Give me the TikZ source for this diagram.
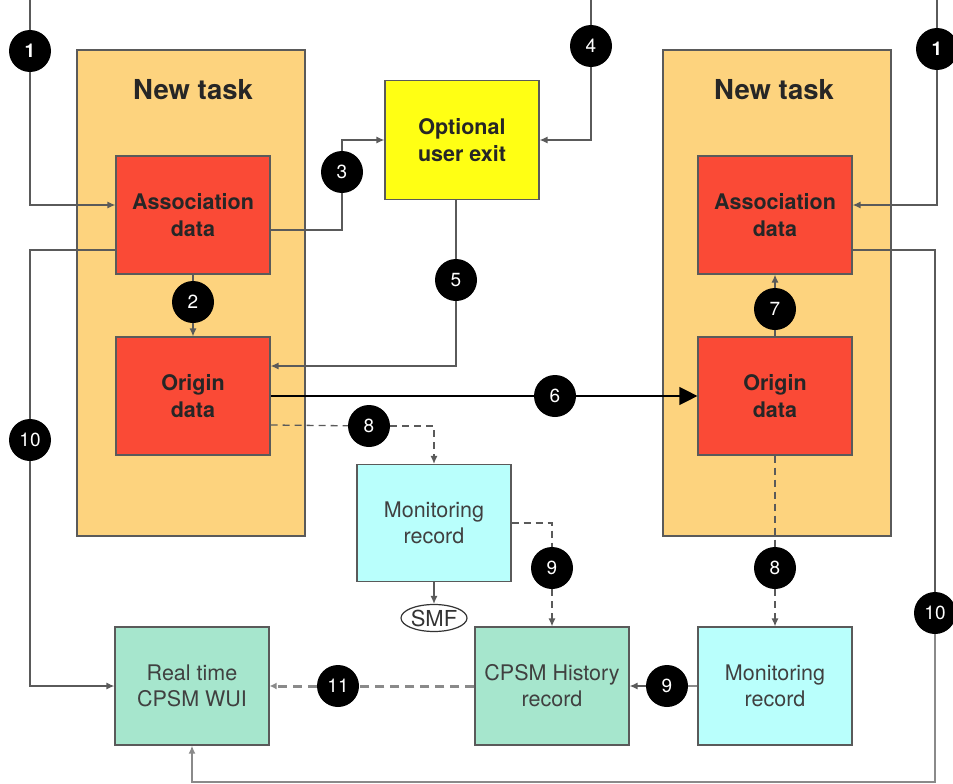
\documentclass[tikz,border=0pt]{standalone}
\usepackage{fontspec}
\setmainfont{TeX Gyre Heros}
\usetikzlibrary{arrows.meta,shapes.geometric}

\definecolor{taskorange}{HTML}{FDD37E}
\definecolor{datared}{HTML}{FA4A36}
\definecolor{exityellow}{HTML}{FFFF14}
\definecolor{moncyan}{HTML}{B9FFFC}
\definecolor{histgreen}{HTML}{A6E6CD}
\definecolor{edge}{HTML}{5A5A5A}
\definecolor{lightedge}{HTML}{8A8A8A}

\begin{document}
\begin{tikzpicture}[x=1pt,y=-1pt,
  task/.style={draw=edge,line width=1.2pt,fill=taskorange,minimum width=228pt,minimum height=486pt,inner sep=0pt},
  tasktitle/.style={font=\bfseries\fontsize{27.5}{30}\selectfont,text=black!85},
  box/.style={draw=edge,line width=1.2pt,inner sep=0pt,minimum width=154pt,minimum height=118pt,align=center},
  hot/.style={box,font=\bfseries\fontsize{21.5}{27}\selectfont,text=black!85},
  cool/.style={box,font=\fontsize{21.5}{26}\selectfont,text=black!75},
  badge/.style={circle,fill=black,minimum size=42pt,inner sep=0pt,text=white,font=\fontsize{19}{19}\selectfont},
  wire/.style={draw=edge,line width=1.3pt},
  arr/.style={wire,-{Latex[length=8pt,width=7pt]}},
  dashwire/.style={wire,dash pattern=on 7pt off 5pt},
  dasharr/.style={dashwire,-{Latex[length=8pt,width=7pt]}},
  faint/.style={draw=lightedge,line width=2pt},
]
  \clip (0,0) rectangle (953,784);

  % task frames
  \node[task] (taskL) at (191,293) {};
  \node[task] (taskR) at (777,293) {};
  \node[tasktitle] (titleL) at (193,90) {New task};
  \node[tasktitle] (titleR) at (774,90) {New task};

  % boxes
  \node[hot,fill=datared] (assocL) at (193,215) {Association\\data};
  \node[hot,fill=datared] (originL) at (193,396) {Origin\\data};
  \node[hot,fill=datared] (assocR) at (775,215) {Association\\data};
  \node[hot,fill=datared] (originR) at (775,396) {Origin\\data};
  \node[hot,fill=exityellow,minimum height=119pt] (exit) at (462,140) {Optional\\user exit};
  \node[cool,fill=moncyan,minimum height=117pt] (monM) at (434,523) {Monitoring\\record};
  \node[cool,fill=histgreen] (wui) at (192,686) {Real time\\CPSM WUI};
  \node[cool,fill=histgreen] (hist) at (552,686) {CPSM History\\record};
  \node[cool,fill=moncyan] (monB) at (775,686) {Monitoring\\record};
  \node[ellipse,draw=black!80,line width=1.2pt,minimum width=66pt,minimum height=27pt,inner sep=0pt,
        font=\fontsize{22}{22}\selectfont,text=black!80] (smf) at (434,618) {SMF};

  % badges
  \node[badge,font=\bfseries\fontsize{19}{19}\selectfont] (b1L) at (30,51) {1};
  \node[badge,font=\bfseries\fontsize{19}{19}\selectfont] (b1R) at (937,49) {1};
  \node[badge] (b2) at (193,302) {2};
  \node[badge] (b3) at (342,172) {3};
  \node[badge] (b4) at (591,46) {4};
  \node[badge] (b5) at (456,280) {5};
  \node[badge] (b6) at (555,396) {6};
  \node[badge] (b7) at (775,309) {7};
  \node[badge] (b8L) at (369,426) {8};
  \node[badge] (b8R) at (775,568) {8};
  \node[badge] (b9M) at (552,568) {9};
  \node[badge] (b9B) at (667,686) {9};
  \node[badge] (b10L) at (30,440) {10};
  \node[badge] (b10R) at (935,613) {10};
  \node[badge] (b11) at (338,686) {11};

  \coordinate (in1L) at (30,0);
  \coordinate (in1R) at (937,0);
  \coordinate (in4) at (591,0);
  \coordinate (turnR) at (935,782);

  % 1
  \draw[wire] (in1L) -- (b1L);
  \draw[arr] (b1L) |- ([yshift=10pt]assocL.west);
  \draw[wire] (in1R) -- (b1R);
  \draw[arr] (b1R) |- ([yshift=10pt]assocR.east);
  % 2
  \draw[wire] (assocL.south) -- (b2);
  \draw[arr] (b2) -- (originL.north);
  % 3
  \draw[wire] ([yshift=-15pt]assocL.east) -| (b3);
  \draw[arr] (b3) |- (exit.west);
  % 4
  \draw[wire] (in4) -- (b4);
  \draw[arr] (b4) |- (exit.east);
  % 5
  \draw[wire] (exit.south -| b5) -- (b5);
  \draw[arr] (b5) |- ([yshift=30pt]originL.east);
  % 6
  \draw[wire,draw=black] (originL.east) -- (b6);
  \draw[wire,draw=black,-{Triangle[length=18pt,width=18pt]}] (b6) -- (originR.west);
  % 7
  \draw[wire] (originR.north) -- (b7);
  \draw[arr] (b7) -- (assocR.south);
  % 8
  \draw[dashwire] ([yshift=-29pt]originL.east) -- (b8L);
  \draw[dasharr] (b8L) -| (monM.north);
  \draw[dashwire] (originR.south) -- (b8R);
  \draw[dasharr] (b8R) -- (monB.north);
  % SMF
  \draw[arr] (monM.south) -- (smf.north);
  % 9
  \draw[dashwire] (monM.east) -| (b9M);
  \draw[dasharr] (b9M) -- (hist.north);
  \draw[faint] (monB.west) -- (b9B);
  \draw[arr] (b9B) -- (hist.east);
  % 10
  \draw[wire] ([yshift=-35pt]assocL.west) -| (b10L);
  \draw[arr] (b10L) |- (wui.west);
  \draw[wire] ([yshift=-35pt]assocR.east) -| (b10R);
  \draw[faint,-{Latex[length=8pt,width=7pt]}] (b10R) -- (turnR) -| (wui.south);
  % 11
  \draw[faint,line width=3pt,dash pattern=on 9pt off 6pt] (hist.west) -- (b11);
  \draw[faint,line width=3pt,dash pattern=on 9pt off 6pt,-{Latex[length=7pt,width=7pt]}] (b11) -- (wui.east);
\end{tikzpicture}
\end{document}
